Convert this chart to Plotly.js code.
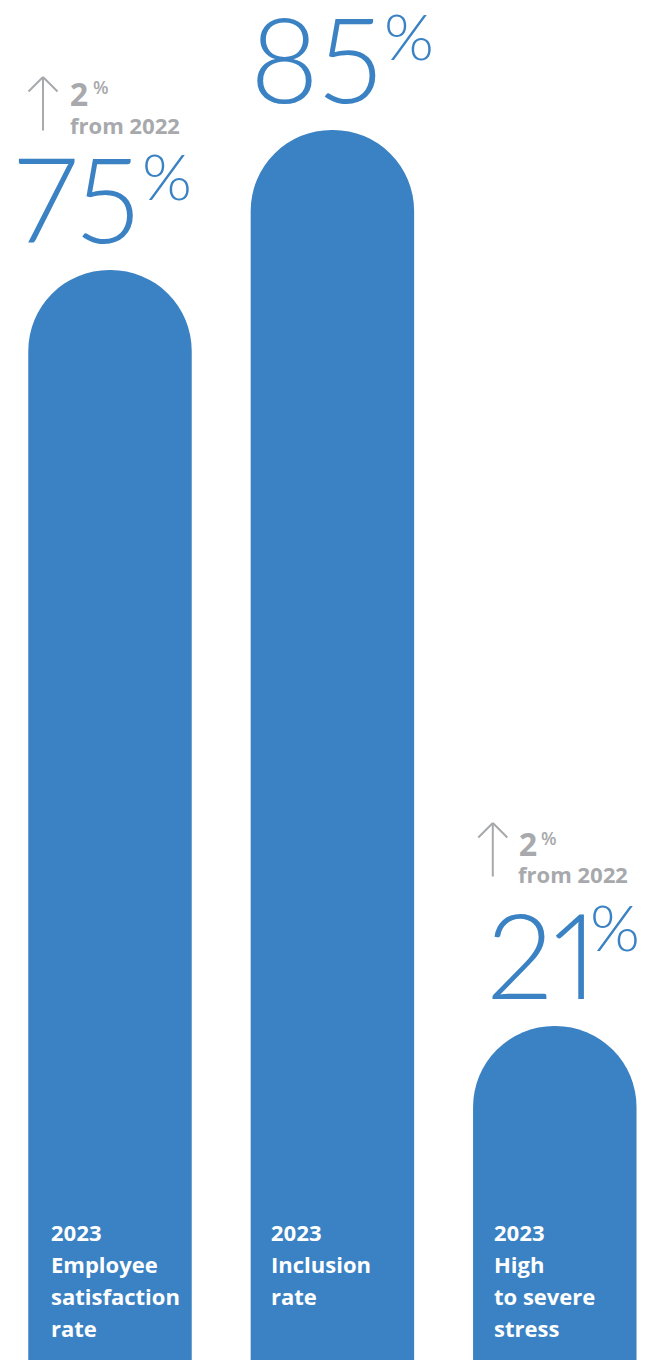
<!DOCTYPE html>
<html>
<head>
<meta charset="utf-8">
<script src="https://cdn.plot.ly/plotly-3.0.1.min.js"></script>
<style>
  html, body { margin: 0; padding: 0; background: #ffffff; }
  #chart { width: 645px; height: 1360px; }
  svg text { font-variant-numeric: proportional-nums; font-feature-settings: "pnum" 1; }
</style>
</head>
<body>
<div id="chart"></div>
<script>
// ---- data ----
const categories = ['Employee satisfaction rate', 'Inclusion rate', 'High to severe stress'];
const values = [75, 85, 21];
const valueSuffix = '%';
const labelLines = [
  ['2023', 'Employee', 'satisfaction', 'rate'],
  ['2023', 'Inclusion', 'rate'],
  ['2023', 'High', 'to severe', 'stress']
];
const changeValues = [2, null, 2];
const changeLabel = 'from 2022';

// ---- style ----
const BLUE = '#3a82c3';
const GREY = '#a7a9ac';
const Y_BOTTOM = -2.85;       // visible bottom of the value axis
const Y_TOP = 94.28;
const BAR_BASE = -30;         // bars start below the visible area (clipped)

// per-bar placement tweaks (pixels, relative to the bar top / centre)
const numShift = [{x: -97, y: 0}, {x: -84, y: 0}, {x: -70, y: 0}];
const pctShift = [{x: 30, y: 135}, {x: 50, y: 135}, {x: 33, y: 140}];
const chgShift = [
  {arrowX: -67, arrowY: 193, twoX: -42, twoY: 200, pX: -19, pY: 197, fX: -42, fY: 162},
  null,
  {arrowX: -62, arrowY: 203, twoX: -38, twoY: 206, pX: -16, pY: 202, fX: -39, fY: 169}
];
const labelShift = [-61, -63, -63];

const bars = {
  type: 'bar',
  x: categories,
  y: values.map(v => v - BAR_BASE),
  base: BAR_BASE,
  width: 0.735,
  cliponaxis: true,
  marker: { color: BLUE, line: { width: 0 } },
  hoverinfo: 'skip'
};

const ann = [];
function arrowLine(c, v, s, ax, ay) {
  return {
    x: c, y: v, xref: 'x', yref: 'y', text: '',
    showarrow: true, ax: ax, ay: ay, arrowhead: 0, arrowwidth: 2,
    arrowcolor: GREY, standoff: 0, startstandoff: 0,
    xshift: s.arrowX, yshift: s.arrowY
  };
}
categories.forEach((c, i) => {
  const v = values[i];
  // big value
  ann.push({
    x: c, y: v, xref: 'x', yref: 'y', showarrow: false,
    text: String(v), xanchor: 'left', yanchor: 'bottom',
    xshift: numShift[i].x, yshift: numShift[i].y,
    font: { family: 'Lato', size: 118, weight: 300, color: BLUE }
  });
  ann.push({
    x: c, y: v, xref: 'x', yref: 'y', showarrow: false,
    text: valueSuffix, xanchor: 'left', yanchor: 'top',
    xshift: pctShift[i].x, yshift: pctShift[i].y,
    font: { family: 'Lato', size: 64, weight: 300, color: BLUE }
  });
  // change vs previous year
  if (changeValues[i] !== null) {
    const s = chgShift[i];
    ann.push(arrowLine(c, v, s, 0, 55));
    ann.push(arrowLine(c, v, s, -16, 16));
    ann.push(arrowLine(c, v, s, 16, 16));
    ann.push({
      x: c, y: v, xref: 'x', yref: 'y', showarrow: false,
      text: String(changeValues[i]), xanchor: 'left', yanchor: 'top',
      xshift: s.twoX, yshift: s.twoY,
      font: { family: 'Open Sans', size: 32, weight: 700, color: GREY }
    });
    ann.push({
      x: c, y: v, xref: 'x', yref: 'y', showarrow: false,
      text: valueSuffix, xanchor: 'left', yanchor: 'top',
      xshift: s.pX, yshift: s.pY,
      font: { family: 'Open Sans', size: 18, weight: 600, color: GREY }
    });
    ann.push({
      x: c, y: v, xref: 'x', yref: 'y', showarrow: false,
      text: changeLabel, xanchor: 'left', yanchor: 'top',
      xshift: s.fX, yshift: s.fY,
      font: { family: 'Open Sans', size: 22, weight: 700, color: GREY }
    });
  }
  // label inside the bar
  ann.push({
    x: c, y: Y_BOTTOM, xref: 'x', yref: 'y', showarrow: false,
    text: labelLines[i].map(l => '<span style="font-size:22px">' + l + '</span>').join('<br>'),
    align: 'left', xanchor: 'left', yanchor: 'top',
    xshift: labelShift[i], yshift: 145,
    font: { family: 'Open Sans', size: 24.6, weight: 700, color: '#ffffff' }
  });
});

const layout = {
  width: 645, height: 1360,
  margin: { l: 0, r: 0, t: 0, b: 0, pad: 0 },
  paper_bgcolor: '#ffffff', plot_bgcolor: '#ffffff',
  showlegend: false,
  barcornerradius: '50%',
  xaxis: { type: 'category', range: [-0.4946, 2.4056], visible: false, fixedrange: true },
  yaxis: { range: [Y_BOTTOM, Y_TOP], visible: false, fixedrange: true },
  annotations: ann
};

Plotly.newPlot('chart', [bars], layout, { staticPlot: true, displayModeBar: false });
</script>
</body>
</html>
